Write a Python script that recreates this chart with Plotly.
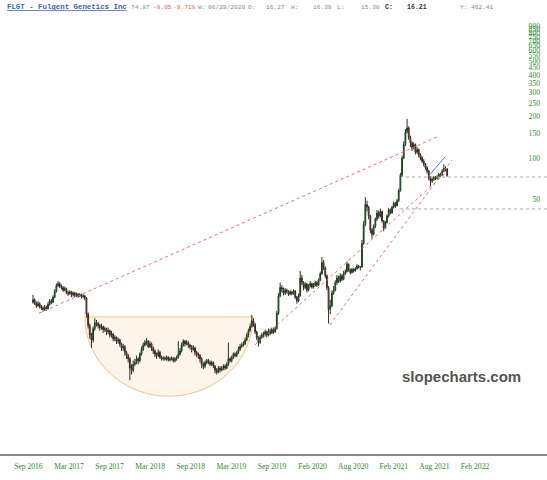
import numpy as np
import plotly.graph_objects as go

# ---------------- data (weekly candles) ----------------
TICKER_TITLE = "FLGT - Fulgent Genetics Inc"

OPEN = [9.0, 9.4, 8.9, 8.5, 8.8, 8.4, 8.2, 8.0, 8.3, 8.1, 8.7, 9.2, 9.0, 9.8, 10.8, 11.9, 12.3, 11.8, 11.5, 11.0,
        11.3, 10.6, 10.4, 10.7, 10.2, 10.5, 10.1, 10.3, 10.0, 10.2, 9.9, 10.0, 9.7, 7.4, 6.1, 5.2, 4.8, 5.8, 6.4, 6.3,
        6.1, 5.9, 6.0, 5.7, 5.8, 5.5, 5.6, 5.2, 5.3, 4.9, 5.0, 4.7, 4.8, 4.5, 4.2, 4.3, 3.9, 3.7, 3.5, 3.0,
        2.9, 3.2, 3.3, 3.5, 3.4, 3.8, 4.1, 4.4, 4.6, 4.7, 4.3, 4.5, 4.2, 4.0, 3.8, 3.7, 3.9, 3.6, 3.5, 3.55,
        3.5, 3.6, 3.45, 3.5, 3.55, 3.4, 3.5, 3.6, 3.8, 4.0, 4.4, 4.7, 4.5, 4.6, 4.4, 4.3, 4.1, 4.2, 3.9, 3.8,
        3.7, 3.5, 3.2, 3.1, 3.3, 3.4, 3.3, 3.2, 3.3, 3.1, 2.9, 2.8, 3.0, 2.9, 3.0, 3.1, 3.0, 3.2, 3.5, 3.4,
        3.6, 3.8, 3.7, 3.9, 4.1, 4.3, 4.4, 4.5, 4.8, 5.2, 5.6, 6.0, 6.6, 6.2, 5.5, 5.0, 4.6, 5.0, 5.2, 5.3,
        5.5, 5.2, 5.6, 5.4, 5.7, 5.5, 5.8, 7.5, 10.0, 11.5, 11.2, 10.5, 11.0, 10.8, 10.3, 10.7, 10.4, 10.9, 9.8, 9.2,
        10.0, 13.5, 12.5, 11.5, 12.2, 11.0, 11.8, 12.3, 11.6, 12.0, 12.5, 12.0, 13.0, 14.5, 17.5, 16.0, 14.0, 11.5, 8.0, 8.5,
        10.5, 11.0, 12.5, 13.5, 12.8, 14.0, 13.2, 14.5, 15.0, 17.0, 15.5, 14.8, 15.6, 15.2, 15.8, 16.5, 16.27, 16.2, 24.0, 33.0,
        46.0, 44.0, 38.0, 30.0, 28.0, 32.0, 36.0, 40.0, 38.0, 41.0, 35.0, 31.0, 34.0, 38.0, 42.0, 40.0, 44.0, 47.0, 45.0, 49.0,
        58.0, 75.0, 100.0, 125.0, 155.0, 165.0, 140.0, 128.0, 118.0, 125.0, 110.0, 115.0, 105.0, 100.0, 95.0, 90.0, 85.0, 80.0, 72.0, 68.0,
        70.0, 72.0, 71.0, 73.0, 76.0, 75.0, 80.0, 84.0, 83.0]

HIGH = [10.2, 9.6, 9.1, 9.2, 9.0, 8.6, 8.4, 8.6, 8.5, 9.0, 9.5, 9.5, 10.1, 11.2, 12.3, 12.8, 12.6, 12.1, 11.8, 11.7,
        11.5, 10.9, 11.0, 10.9, 10.8, 10.7, 10.6, 10.5, 10.5, 10.4, 10.3, 10.2, 9.8, 7.6, 6.3, 5.4, 6.0, 6.9, 6.7, 6.5,
        6.3, 6.3, 6.1, 6.0, 5.9, 5.9, 5.7, 5.6, 5.4, 5.2, 5.1, 5.0, 4.9, 4.6, 4.5, 4.4, 4.0, 3.8, 3.6, 3.2,
        3.4, 3.5, 3.7, 3.6, 3.9, 4.3, 4.6, 4.8, 4.95, 4.8, 4.7, 4.6, 4.3, 4.1, 3.9, 4.1, 4.0, 3.7, 3.65, 3.65,
        3.7, 3.65, 3.6, 3.65, 3.6, 3.6, 3.7, 4.7, 4.2, 4.6, 4.85, 4.8, 4.8, 4.7, 4.5, 4.4, 4.4, 4.3, 4.0, 3.9,
        3.8, 3.6, 3.3, 3.4, 3.5, 3.5, 3.4, 3.4, 3.35, 3.15, 3.0, 3.1, 3.1, 3.1, 3.2, 3.2, 3.3, 4.6, 3.6, 3.7,
        3.9, 3.9, 4.0, 4.3, 4.5, 4.6, 4.7, 5.0, 5.4, 5.8, 6.3, 7.3, 6.9, 6.4, 5.6, 5.1, 5.2, 5.4, 5.5, 5.7,
        5.6, 5.8, 5.8, 5.9, 5.9, 6.0, 7.8, 10.5, 12.5, 12.0, 11.5, 11.4, 11.3, 11.0, 11.0, 10.9, 11.2, 11.0, 10.0, 10.4,
        15.2, 14.2, 12.8, 12.6, 12.4, 12.2, 12.8, 12.5, 12.4, 12.9, 12.8, 13.4, 15.0, 19.2, 18.2, 16.4, 14.3, 11.8, 9.4, 11.0,
        11.8, 13.0, 14.2, 14.0, 14.6, 14.4, 15.2, 15.6, 17.8, 17.2, 15.8, 16.0, 15.9, 16.2, 17.0, 16.8, 16.39, 25.5, 35.0, 52.0,
        49.0, 45.0, 38.5, 31.0, 33.0, 37.0, 42.0, 41.5, 43.0, 41.5, 35.5, 35.0, 39.0, 43.5, 43.0, 45.0, 48.5, 48.0, 50.5, 60.0,
        78.0, 104.0, 132.0, 162.0, 192.0, 170.0, 145.0, 132.0, 130.0, 127.0, 120.0, 117.0, 108.0, 103.0, 98.0, 92.0, 87.0, 82.0, 74.0, 72.0,
        74.0, 74.0, 75.0, 78.0, 78.0, 83.0, 90.0, 87.0, 84.5]

LOW = [8.8, 8.6, 8.2, 8.3, 8.1, 7.9, 7.7, 7.8, 7.8, 8.0, 8.5, 8.7, 8.9, 9.6, 10.6, 11.6, 11.4, 11.1, 10.7, 10.8,
       10.3, 10.0, 10.2, 9.8, 9.9, 9.8, 9.8, 9.7, 9.8, 9.6, 9.6, 9.3, 7.0, 5.8, 4.9, 4.2, 4.6, 5.6, 6.0, 5.8,
       5.6, 5.7, 5.4, 5.5, 5.2, 5.3, 5.0, 5.0, 4.7, 4.7, 4.5, 4.5, 4.3, 4.0, 4.0, 3.7, 3.5, 3.3, 2.45, 2.7,
       2.8, 3.1, 3.2, 3.2, 3.3, 3.7, 4.0, 4.3, 4.4, 4.2, 4.2, 4.0, 3.8, 3.6, 3.5, 3.6, 3.5, 3.4, 3.4, 3.4,
       3.4, 3.35, 3.35, 3.4, 3.3, 3.3, 3.4, 3.5, 3.7, 3.9, 4.3, 4.3, 4.4, 4.2, 4.1, 3.9, 4.0, 3.7, 3.6, 3.5,
       3.3, 3.0, 2.95, 3.0, 3.2, 3.2, 3.1, 3.1, 3.0, 2.75, 2.7, 2.75, 2.8, 2.85, 2.9, 2.9, 2.95, 3.1, 3.3, 3.3,
       3.5, 3.6, 3.6, 3.8, 4.0, 4.2, 4.3, 4.4, 4.7, 5.0, 5.5, 5.9, 6.0, 5.3, 4.8, 4.3, 4.5, 4.9, 5.0, 5.1,
       5.0, 5.1, 5.2, 5.3, 5.3, 5.4, 5.7, 7.3, 9.8, 10.6, 10.1, 10.2, 10.4, 10.0, 10.1, 10.1, 10.2, 9.5, 8.8, 9.0,
       9.9, 12.0, 11.0, 11.2, 10.6, 10.8, 11.5, 11.3, 11.3, 11.7, 11.6, 11.8, 12.8, 14.2, 15.4, 13.5, 11.0, 6.3, 7.4, 8.3,
       10.2, 10.8, 12.0, 12.4, 12.5, 12.8, 13.0, 14.2, 14.8, 15.0, 14.3, 14.5, 14.8, 15.0, 15.5, 15.8, 15.30, 16.0, 23.5, 32.0,
       41.0, 36.0, 28.5, 26.0, 27.5, 31.0, 35.0, 36.5, 37.0, 34.0, 29.5, 30.5, 33.5, 37.0, 39.0, 39.5, 43.0, 43.5, 44.5, 48.0,
       57.0, 73.0, 98.0, 122.0, 150.0, 135.0, 120.0, 112.0, 115.0, 106.0, 107.0, 101.0, 96.0, 92.0, 87.0, 82.0, 77.0, 69.0, 62.0, 66.0,
       68.0, 69.0, 70.0, 72.0, 73.0, 74.0, 79.0, 80.0, 73.0]

CLOSE = [9.4, 8.9, 8.5, 8.8, 8.4, 8.2, 8.0, 8.3, 8.1, 8.7, 9.2, 9.0, 9.8, 10.8, 11.9, 12.3, 11.8, 11.5, 11.0, 11.3,
         10.6, 10.4, 10.7, 10.2, 10.5, 10.1, 10.3, 10.0, 10.2, 9.9, 10.0, 9.7, 7.4, 6.1, 5.2, 4.8, 5.8, 6.4, 6.3, 6.1,
         5.9, 6.0, 5.7, 5.8, 5.5, 5.6, 5.2, 5.3, 4.9, 5.0, 4.7, 4.8, 4.5, 4.2, 4.3, 3.9, 3.7, 3.5, 3.0, 2.9,
         3.2, 3.3, 3.5, 3.4, 3.8, 4.1, 4.4, 4.6, 4.7, 4.3, 4.5, 4.2, 4.0, 3.8, 3.7, 3.9, 3.6, 3.5, 3.55, 3.5,
         3.6, 3.45, 3.5, 3.55, 3.4, 3.5, 3.6, 3.8, 4.0, 4.4, 4.7, 4.5, 4.6, 4.4, 4.3, 4.1, 4.2, 3.9, 3.8, 3.7,
         3.5, 3.2, 3.1, 3.3, 3.4, 3.3, 3.2, 3.3, 3.1, 2.9, 2.8, 3.0, 2.9, 3.0, 3.1, 3.0, 3.2, 3.5, 3.4, 3.6,
         3.8, 3.7, 3.9, 4.1, 4.3, 4.4, 4.5, 4.8, 5.2, 5.6, 6.0, 6.6, 6.2, 5.5, 5.0, 4.6, 5.0, 5.2, 5.3, 5.5,
         5.2, 5.6, 5.4, 5.7, 5.5, 5.8, 7.5, 10.0, 11.5, 11.2, 10.5, 11.0, 10.8, 10.3, 10.7, 10.4, 10.9, 9.8, 9.2, 10.0,
         13.5, 12.5, 11.5, 12.2, 11.0, 11.8, 12.3, 11.6, 12.0, 12.5, 12.0, 13.0, 14.5, 17.5, 16.0, 14.0, 11.5, 8.0, 8.5, 10.5,
         11.0, 12.5, 13.5, 12.8, 14.0, 13.2, 14.5, 15.0, 17.0, 15.5, 14.8, 15.6, 15.2, 15.8, 16.5, 16.2, 16.21, 24.0, 33.0, 46.0,
         44.0, 38.0, 30.0, 28.0, 32.0, 36.0, 40.0, 38.0, 41.0, 35.0, 31.0, 34.0, 38.0, 42.0, 40.0, 44.0, 47.0, 45.0, 49.0, 58.0,
         75.0, 100.0, 125.0, 155.0, 165.0, 140.0, 128.0, 118.0, 125.0, 110.0, 115.0, 105.0, 100.0, 95.0, 90.0, 85.0, 80.0, 72.0, 68.0, 70.0,
         72.0, 71.0, 73.0, 76.0, 75.0, 80.0, 84.0, 82.92, 74.87]

X_TICK_LABELS = ["Sep 2016", "Mar 2017", "Sep 2017", "Mar 2018", "Sep 2018", "Mar 2019",
                 "Sep 2019", "Feb 2020", "Aug 2020", "Feb 2021", "Aug 2021", "Feb 2022"]
Y_TICK_VALUES = [50, 100, 150, 200, 250, 300, 350, 400, 450, 500, 550, 600, 650, 700, 750, 800, 850, 900]

HEADER_TEXTS = ["74.87", "-8.05", "-9.71%", "W:", "06/29/2020", "O:", "16.27", "H:", "16.39",
                "L:", "15.30", "C:", "16.21", "Y:", "462.41"]
HEADER_COLORS = ["#888888", "#e06262", "#e06262", "#888888", "#888888", "#888888", "#888888", "#888888",
                 "#888888", "#888888", "#888888", "#333333", "#333333", "#888888", "#888888"]
HEADER_BOLD = [False, False, False, False, False, False, False, False, False, False, False, True, True, False, False]

# trend lines as (week index, price) pairs
RED_LINES = [((3.6, 7.5), (241.9, 142.0)),
             ((177.8, 6.17), (250.9, 96.7)),
             ((132.9, 4.42), (247.9, 79.3))]
BLUE_LINE = ((236.5, 72.8), (246.7, 101.7))
H_LEVELS = [(223.4, 72.8), (219.8, 42.7)]
CUP = dict(x_left=31.1, x_right=131.7, top=7.05, bottom=1.88)

# ---------------- layout geometry ----------------
W, H = 547, 480
M_T, M_B = 14, 26
PX0, STEP = 33.0, 1.67          # pixel of first candle, pixels per week


def px_to_idx(px):
    return (px - PX0) / STEP


N = len(CLOSE)
x = np.arange(N)
lo, lh, ll, lc = (np.log10(np.array(a, dtype=float)) for a in (OPEN, HIGH, LOW, CLOSE))

fig = go.Figure()
fig.add_trace(go.Candlestick(
    x=x, open=lo, high=lh, low=ll, close=lc,
    increasing=dict(line=dict(color="#1f3d1f", width=1), fillcolor="#5faa5f"),
    decreasing=dict(line=dict(color="#3a2525", width=1), fillcolor="#d9a6a6"),
    whiskerwidth=0, hoverinfo="skip", showlegend=False,
))

shapes = []
# cup (lower half ellipse)
cx = (CUP["x_left"] + CUP["x_right"]) / 2
a = (CUP["x_right"] - CUP["x_left"]) / 2
yt = np.log10(CUP["top"])
b = yt - np.log10(CUP["bottom"])
th = np.linspace(0, np.pi, 80)
pts = [(cx + a * np.cos(t), yt - b * np.sin(t)) for t in th]
path = "M " + " L ".join(f"{px:.3f},{py:.4f}" for px, py in pts) + " Z"
shapes.append(dict(type="path", path=path, xref="x", yref="y", layer="below",
                   fillcolor="#fdf4ea", line=dict(color="#f2c28c", width=1)))

for (x0, p0), (x1, p1) in RED_LINES:
    shapes.append(dict(type="line", xref="x", yref="y", x0=x0, y0=np.log10(p0), x1=x1, y1=np.log10(p1),
                       line=dict(color="#e87272", width=1, dash="dot"), layer="above"))
(bx0, bp0), (bx1, bp1) = BLUE_LINE
shapes.append(dict(type="line", xref="x", yref="y", x0=bx0, y0=np.log10(bp0), x1=bx1, y1=np.log10(bp1),
                   line=dict(color="#5577dd", width=1), layer="above"))
for x0, p in H_LEVELS:
    shapes.append(dict(type="line", xref="x", yref="y", x0=x0, y0=np.log10(p), x1=px_to_idx(W), y1=np.log10(p),
                       line=dict(color="#aaaaaa", width=1, dash="dot"), layer="above"))

annotations = []
py_header = (H - M_B - 7) / (H - M_T - M_B)
annotations.append(dict(xref="paper", yref="paper", x=5 / W, y=py_header, xanchor="left", yanchor="middle",
                        text=f"<b><u>{TICKER_TITLE}</u></b>", showarrow=False,
                        font=dict(family="Liberation Mono", size=7.4, color="#3a5fb5")))
HEADER_X = [129, 151, 171, 196, 206, 246, 264, 289, 311, 335, 359, 383, 405, 458, 469]
for t, c, bold, hx in zip(HEADER_TEXTS, HEADER_COLORS, HEADER_BOLD, HEADER_X):
    annotations.append(dict(xref="paper", yref="paper", x=hx / W, y=py_header, xanchor="left", yanchor="middle",
                            text=f"<b>{t}</b>" if bold else t, showarrow=False,
                            font=dict(family="Liberation Mono", size=6.2 if not bold else 6.6, color=c)))
annotations.append(dict(xref="paper", yref="paper", x=461 / W, y=(H - M_B - 376) / (H - M_T - M_B),
                        xanchor="center", yanchor="middle", text="<b>slopecharts.com</b>", showarrow=False,
                        font=dict(family="Liberation Sans", size=15, color="#555555")))

tick_pos = [px_to_idx(28.4 + 40.6 * k) for k in range(len(X_TICK_LABELS))]
green = "#2e8b2e"

fig.update_layout(
    width=W, height=H, margin=dict(l=0, r=0, t=M_T, b=M_B),
    paper_bgcolor="white", plot_bgcolor="white", showlegend=False,
    shapes=shapes, annotations=annotations,
    xaxis=dict(range=[px_to_idx(0), px_to_idx(W)], tickmode="array", tickvals=tick_pos, ticktext=X_TICK_LABELS,
               showgrid=False, zeroline=False, showline=True, linecolor="#888888", linewidth=2,
               ticks="", ticklabelstandoff=4, rangeslider=dict(visible=False),
               tickfont=dict(family="Liberation Serif", size=7.6, color=green)),
    yaxis=dict(range=[-0.145, 3.043], side="right", tickmode="array",
               tickvals=[np.log10(v) for v in Y_TICK_VALUES], ticktext=[str(v) for v in Y_TICK_VALUES],
               ticklabelposition="inside", ticklabelstandoff=4, ticks="",
               showgrid=False, zeroline=False, showline=False,
               tickfont=dict(family="Liberation Serif", size=7.6, color=green)),
)

fig.write_html("out.html", config={"displayModeBar": False},
               post_script="document.body.style.margin='0px';document.body.style.padding='0px';")
